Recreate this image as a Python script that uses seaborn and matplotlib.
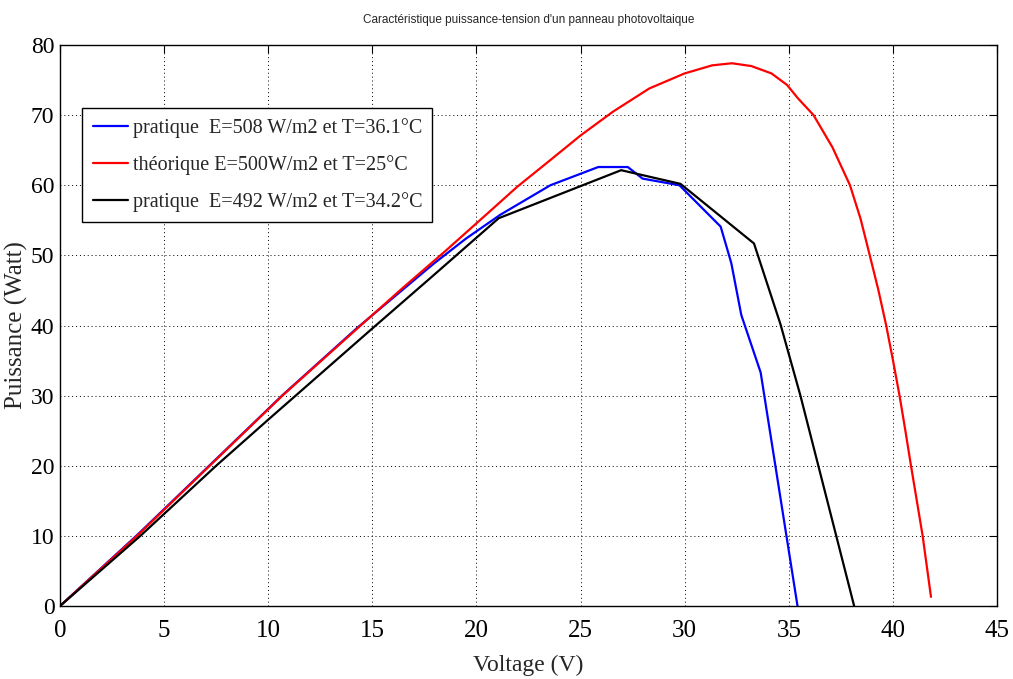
import matplotlib
matplotlib.use("Agg")
import matplotlib.pyplot as plt
import seaborn as sns
import pandas as pd

# Data
v_blue = [0, 3.7, 7.2, 10.7, 14.25, 17.9, 19.5, 21.15, 23.55, 25.85, 27.27, 27.98, 29.75, 31.73, 32.24, 32.72, 33.65, 35.42]
p_blue = [0, 10.1, 20.1, 30.1, 39.6, 48.7, 52.4, 55.8, 60.0, 62.6, 62.6, 60.95, 60.0, 54.1, 48.9, 41.5, 33.3, 0]

v_red = [0, 3.7, 7.19, 10.68, 14.25, 16.4, 18.5, 20.52, 21.95, 23.54, 25.0, 26.56, 28.3, 30.0, 31.32,
         32.27, 33.2, 34.17, 34.92, 35.44, 36.19, 37.1, 37.94, 38.45, 38.89, 39.3, 39.68, 40.0, 40.32,
         40.6, 40.87, 41.15, 41.43, 41.83]
p_red = [0, 10.0, 20.0, 30.0, 39.5, 45.2, 50.6, 55.95, 59.76, 63.57, 67.1, 70.5, 73.8, 75.95, 77.1,
         77.4, 77.0, 75.95, 74.3, 72.4, 70.0, 65.4, 60.0, 55.2, 50.0, 45.1, 40.0, 35.1, 30.0,
         25.0, 20.0, 15.0, 10.0, 1.3]

v_black = [0, 3.86, 7.5, 10.05, 14.97, 17.8, 21.07, 26.95, 29.8, 33.33, 34.6, 35.56, 38.14]
p_black = [0, 10.0, 20.0, 26.7, 39.5, 46.8, 55.3, 62.15, 60.2, 51.7, 40.2, 30.0, 0]

labels = ["pratique  E=508 W/m2 et T=36.1°C",
          "théorique E=500W/m2 et T=25°C",
          "pratique  E=492 W/m2 et T=34.2°C"]
colors = ["#0000ff", "#ff0000", "#000000"]

title = "Caractéristique puissance-tension d'un panneau photovoltaique"
xlabel = "Voltage (V)"
ylabel = "Puissance (Watt)"
xticks = [0, 5, 10, 15, 20, 25, 30, 35, 40, 45]
yticks = [0, 10, 20, 30, 40, 50, 60, 70, 80]

frames = []
for v, p, lab in [(v_blue, p_blue, labels[0]), (v_red, p_red, labels[1]), (v_black, p_black, labels[2])]:
    frames.append(pd.DataFrame({"V": v, "P": p, "serie": lab}))
df = pd.concat(frames, ignore_index=True)

sns.set_style("white")
plt.rcParams["font.family"] = ["Liberation Serif", "DejaVu Serif"]

fig = plt.figure(figsize=(10.13, 6.79), dpi=100)
ax = fig.add_axes([0.0592, 0.1075, 0.9250, 0.8262])

sns.lineplot(data=df, x="V", y="P", hue="serie", hue_order=labels,
             palette=dict(zip(labels, colors)), sort=False, estimator=None,
             linewidth=1.6, ax=ax)

ax.set_xlim(0, 45)
ax.set_ylim(0, 80)
ax.set_xticks(xticks)
ax.set_yticks(yticks)
ax.tick_params(direction="in", length=6, width=0.8, top=True, right=True,
               labelsize=18, colors="black")
ax.tick_params(axis="x", pad=10)
ax.tick_params(axis="y", pad=4, labelsize=17)
ax.grid(True, linestyle=(0, (1, 3)), color="black", linewidth=0.7)
for s in ax.spines.values():
    s.set_color("black")
    s.set_linewidth(1.0)

ax.set_xlabel(xlabel, fontsize=17, labelpad=9)
ax.set_ylabel(ylabel, fontsize=18, labelpad=2)
ax.set_title(title, fontsize=8.5, family=["Liberation Sans", "DejaVu Sans"], pad=16)

leg = ax.legend(loc="upper left", bbox_to_anchor=(0.024, 0.888), fontsize=14.5,
                frameon=True, fancybox=False, edgecolor="black", framealpha=1,
                handlelength=1.75, handletextpad=0.25, borderpad=0.5, labelspacing=0.85,
                borderaxespad=0)
leg.get_frame().set_linewidth(1.0)

fig.savefig("out.png", dpi=100)
